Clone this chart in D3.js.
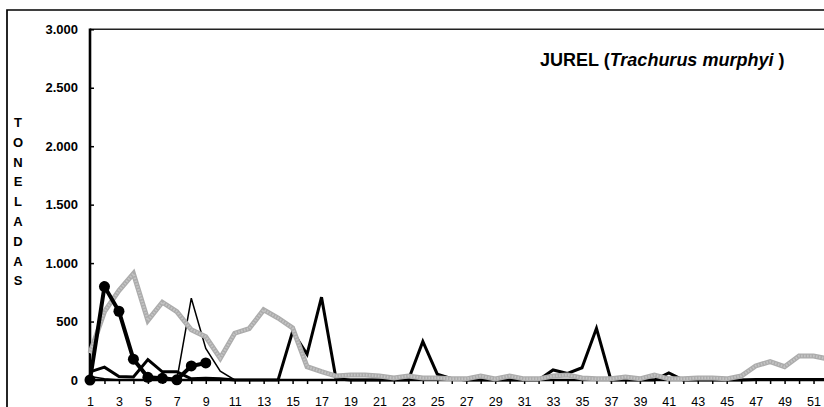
<!DOCTYPE html>
<html><head><meta charset="utf-8">
<script src="https://cdn.jsdelivr.net/npm/d3@7"></script>
<style>
html,body{margin:0;padding:0;background:#fff;}
svg{display:block;font-family:"Liberation Sans",Arial,sans-serif;}
</style></head>
<body>
<svg id="c" width="824" height="407"></svg>
<script>
const weeks = [1,2,3,4,5,6,7,8,9,10,11,12,13,14,15,16,17,18,19,20,21,22,23,24,25,26,27,28,29,30,31,32,33,34,35,36,37,38,39,40,41,42,43,44,45,46,47,48,49,50,51,52];
const serieGris = [230,585,765,910,510,665,585,430,370,186,400,440,600,530,445,114,71,34,43,43,34,17,34,17,17,10,10,34,10,34,10,10,34,43,17,10,10,26,10,43,10,10,17,17,10,34,120,157,114,205,205,180];
const serieCirculos = [0,799,588,178,23,14,2,120,146];
const serieMedia = [70,110,30,25,175,70,70,10,15,10,0,0,0,0,415,220,708,10,0,0,0,0,0,330,50,12,0,0,0,0,0,0,86,57,105,442,0,0,0,0,60,0,0,0,0,0,5,5,5,5,5,5];
const serieFina = [30,10,0,0,0,0,0,700,270,75,0,0,0,0,0,0,0,0,0,0,0,0,0,0,0,0,0,0,0,0,0,0,0,0,0,0,0,0,0,0,0,0,0,0,0,0,0,0,0,0,0,0];
const yTicks = [0,500,1000,1500,2000,2500,3000];
const yTickLabels = ["0","500","1.000","1.500","2.000","2.500","3.000"];
const yTitle = "TONELADAS";

const svg = d3.select("#c");
const x = d3.scalePoint().domain(weeks).range([90, 828]);
const y = d3.scaleLinear().domain([0, 3000]).range([380, 29.3]);

// outer border
svg.append("path").attr("d","M7,420 V10 H840").attr("fill","none").attr("stroke","#000").attr("stroke-width",1.7);
// plot top line
svg.append("line").attr("x1",90).attr("x2",840).attr("y1",29.3).attr("y2",29.3).attr("stroke","#222").attr("stroke-width",1.6);

// y axis
const yAxis = d3.axisLeft(y).tickValues(yTicks).tickSize(-4).tickPadding(12)
  .tickFormat((d,i)=>yTickLabels[i]);
const gy = svg.append("g").attr("transform","translate(90,0)").call(yAxis);
gy.select(".domain").remove();
gy.selectAll(".tick line").attr("stroke","#000").attr("stroke-width",1.5);
gy.selectAll(".tick text").attr("font-size",13).attr("font-weight","bold").attr("fill","#000")
  .attr("font-family","'Liberation Sans',Arial,sans-serif");

// x axis
const xAxis = d3.axisBottom(x).tickSize(4).tickPadding(13)
  .tickFormat(d => d % 2 === 1 ? d : "");
const gx = svg.append("g").attr("transform","translate(0,380)").call(xAxis);
gx.select(".domain").remove();
gx.selectAll(".tick line").attr("stroke","#000").attr("stroke-width",1.5);
gx.selectAll(".tick text").attr("font-size",12.5).attr("fill","#000")
  .attr("font-family","'Liberation Sans',Arial,sans-serif");

// axis lines
svg.append("line").attr("x1",90).attr("x2",840).attr("y1",380).attr("y2",380).attr("stroke","#000").attr("stroke-width",2.5);
svg.append("line").attr("x1",90).attr("x2",90).attr("y1",28.5).attr("y2",381).attr("stroke","#000").attr("stroke-width",2.6);

// y title
svg.append("g").selectAll("text").data(yTitle.split("")).join("text")
  .attr("x",18).attr("y",(d,i)=>127 + i*19.8)
  .attr("text-anchor","middle").attr("font-size",13).attr("font-weight","bold").text(d=>d);

// title
const t = svg.append("text").attr("x",540).attr("y",66).attr("font-size",18).attr("font-weight","bold");
t.append("tspan").text("JUREL (");
t.append("tspan").attr("font-style","italic").text("Trachurus murphyi");
t.append("tspan").text(" )");

const line = d3.line().x((d,i)=>x(weeks[i])).y(d=>y(d)).defined(d=>d!=null);

svg.append("path").datum(serieFina).attr("d",line).attr("fill","none").attr("stroke","#000").attr("stroke-width",1.5).attr("stroke-linejoin","miter");
svg.append("path").datum(serieMedia).attr("d",line).attr("fill","none").attr("stroke","#000").attr("stroke-width",3).attr("stroke-linejoin","miter");
svg.append("path").datum(serieGris).attr("d",line).attr("fill","none").attr("stroke","#acacac").attr("stroke-width",5).attr("stroke-linejoin","miter");
svg.append("path").datum(serieGris).attr("d",line).attr("fill","none").attr("stroke","#c4c4c4").attr("stroke-width",2.5).attr("stroke-dasharray","1.5,1.5").attr("stroke-linejoin","miter");
svg.append("path").datum(serieCirculos).attr("d",line).attr("fill","none").attr("stroke","#000").attr("stroke-width",4);
svg.append("g").selectAll("circle").data(serieCirculos).join("circle")
  .attr("cx",(d,i)=>x(weeks[i])).attr("cy",d=>y(d)).attr("r",5.5).attr("fill","#000");
</script>
</body></html>
